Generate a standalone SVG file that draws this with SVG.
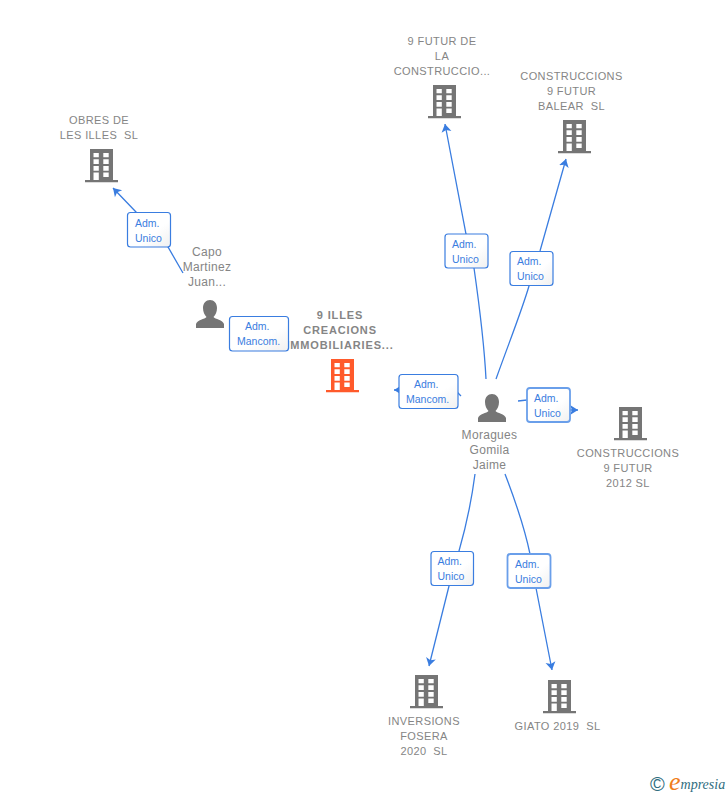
<svg xmlns="http://www.w3.org/2000/svg" width="728" height="795" viewBox="0 0 728 795">
<style>
.l{font-family:"Liberation Sans",Arial,sans-serif;font-size:11px;fill:#858585;text-anchor:middle;letter-spacing:.4px;white-space:pre}
.p{font-size:12px;letter-spacing:.3px}
.b{font-weight:bold;letter-spacing:.85px}
.e{font-family:"Liberation Sans",Arial,sans-serif;font-size:10.5px;fill:#3a7de0}
.c{fill:none;stroke:#3a7de0;stroke-width:1.3}
.x{fill:url(#g);stroke:#3a7de0;stroke-width:1.2}
.y{fill:url(#g);stroke:#6a9fea;stroke-width:1.8}
</style>
<defs>
<linearGradient id="g" x1="0" y1="0" x2="1" y2="1"><stop offset="0" stop-color="#fff"/><stop offset=".6" stop-color="#fff"/><stop offset="1" stop-color="#f0f0f0"/></linearGradient>
<marker id="a" markerUnits="userSpaceOnUse" markerWidth="10" markerHeight="12" refX="8" refY="5.500" orient="auto"><path d="M0 0.500L8 5.500L0 10.500L2 5.500Z" fill="#3a7de0"/></marker>
<path id="bld" fill-rule="evenodd" d="M0 0H23V31H28V33.2H-5V31H0ZM3.500 4V8.300H8.800V4ZM13.300 4V8.300H18.700V4ZM3.500 10.300V15H8.800V10.300ZM13.300 10.300V15H18.700V10.300ZM3.500 17V21.700H8.800V17ZM13.300 17V21.700H18.700V17ZM3.500 23.500V31H8.800V23.500ZM13.300 23.500V28H18.700V23.500Z"/>
<path id="per" d="M14 0C18 0 21 3 21 8C21 12 19.500 15 17.500 17C19 19 27 20 28 24V28H0V24C1 20 9 19 10.500 17C8.500 15 7 12 7 8C7 3 10 0 14 0Z"/>
</defs>
<g id="connectors">
<path class="c" marker-end="url(#a)" d="M183 273L168 247L136 212L113 188"/>
<path class="c" marker-end="url(#a)" d="M486 379C484 340 480 310 474 268L466 234L445 124"/>
<path class="c" marker-end="url(#a)" d="M496 379C510 340 522 310 529 286L540 251L566 159"/>
<path class="c" marker-end="url(#a)" d="M461 396L457 392L420 390L394 390"/>
<path class="c" marker-end="url(#a)" d="M518 401L527 400L550 410L578 410"/>
<path class="c" marker-end="url(#a)" d="M475 474C471 505 465 530 459 551L449 586L429 666"/>
<path class="c" marker-end="url(#a)" d="M505 474C515 500 524 525 530 554L536 588L552 670"/>
</g>
<g id="n-obres"><use href="#bld" x="90" y="149" fill="#757575"/><text class="l"><tspan x="99" y="124">OBRES DE</tspan><tspan x="99" y="139">LES ILLES  SL</tspan></text></g>
<g id="n-9futur"><use href="#bld" x="433" y="85" fill="#757575"/><text class="l"><tspan x="442" y="45">9 FUTUR DE</tspan><tspan x="442" y="60">LA</tspan><tspan x="442" y="75">CONSTRUCCIO...</tspan></text></g>
<g id="n-balear"><use href="#bld" x="563" y="120" fill="#757575"/><text class="l"><tspan x="571.500" y="80">CONSTRUCCIONS</tspan><tspan x="571.500" y="95">9 FUTUR</tspan><tspan x="571.500" y="110">BALEAR  SL</tspan></text></g>
<g id="n-capo"><use href="#per" x="196" y="300" fill="#757575"/><text class="l p"><tspan x="207" y="256">Capo</tspan><tspan x="207" y="271">Martinez</tspan><tspan x="207" y="286">Juan...</tspan></text></g>
<g id="n-9illes"><use href="#bld" x="331" y="359" fill="#ff5a2b"/><text class="l b"><tspan x="340" y="319">9 ILLES</tspan><tspan x="340" y="334">CREACIONS</tspan><tspan x="340" y="349">IMMOBILIARIES...</tspan></text></g>
<g id="n-moragues"><use href="#per" x="478" y="394" fill="#757575"/><text class="l p"><tspan x="489.500" y="439">Moragues</tspan><tspan x="489.500" y="454">Gomila</tspan><tspan x="489.500" y="469">Jaime</tspan></text></g>
<g id="n-2012"><use href="#bld" x="619" y="407" fill="#757575"/><text class="l"><tspan x="628" y="457">CONSTRUCCIONS</tspan><tspan x="628" y="472">9 FUTUR</tspan><tspan x="628" y="487">2012 SL</tspan></text></g>
<g id="n-inversions"><use href="#bld" x="415" y="675" fill="#757575"/><text class="l"><tspan x="424" y="725">INVERSIONS</tspan><tspan x="424" y="740">FOSERA</tspan><tspan x="424" y="755">2020  SL</tspan></text></g>
<g id="n-giato"><use href="#bld" x="548" y="680" fill="#757575"/><text class="l"><tspan x="557.500" y="730">GIATO 2019  SL</tspan></text></g>
<g id="edge-labels">
<g><rect class="x" x="127.500" y="212.500" width="43" height="34.500" rx="3"/><text class="e"><tspan x="135" y="226.500">Adm.</tspan><tspan x="135" y="241.500">Unico</tspan></text></g>
<g><rect class="x" x="229.500" y="316.500" width="59" height="34.500" rx="3"/><text class="e"><tspan x="245" y="329.500">Adm.</tspan><tspan x="237" y="344.500">Mancom.</tspan></text></g>
<g><rect class="x" x="399" y="374.500" width="59" height="34" rx="3"/><text class="e"><tspan x="414" y="387.500">Adm.</tspan><tspan x="406" y="402.500">Mancom.</tspan></text></g>
<g><rect class="x" x="445" y="234" width="43" height="34" rx="3"/><text class="e"><tspan x="452" y="247.500">Adm.</tspan><tspan x="452" y="262.500">Unico</tspan></text></g>
<g><rect class="x" x="510" y="251.500" width="43" height="34" rx="3"/><text class="e"><tspan x="517" y="264.500">Adm.</tspan><tspan x="517" y="279.500">Unico</tspan></text></g>
<g><rect class="y" x="527" y="388" width="43" height="34" rx="3"/><text class="e"><tspan x="534" y="401.500">Adm.</tspan><tspan x="534" y="416.500">Unico</tspan></text></g>
<g><rect class="x" x="431" y="551.500" width="42.500" height="34" rx="3"/><text class="e"><tspan x="437.500" y="564.500">Adm.</tspan><tspan x="437.500" y="579.500">Unico</tspan></text></g>
<g><rect class="y" x="507.500" y="554" width="43" height="34" rx="3"/><text class="e"><tspan x="515" y="567.500">Adm.</tspan><tspan x="515" y="582.500">Unico</tspan></text></g>
</g>
<g id="logo">
<text x="650" y="791" font-family="'Liberation Sans',Arial,sans-serif" font-size="20" fill="#2f6d80">©</text>
<text x="669" y="790" font-family="'Liberation Serif',serif" font-style="italic" font-size="14" fill="#2f6d80"><tspan font-size="26" fill="#f07d1a">e</tspan><tspan dy="-1">mpresia</tspan></text>
</g>
</svg>
